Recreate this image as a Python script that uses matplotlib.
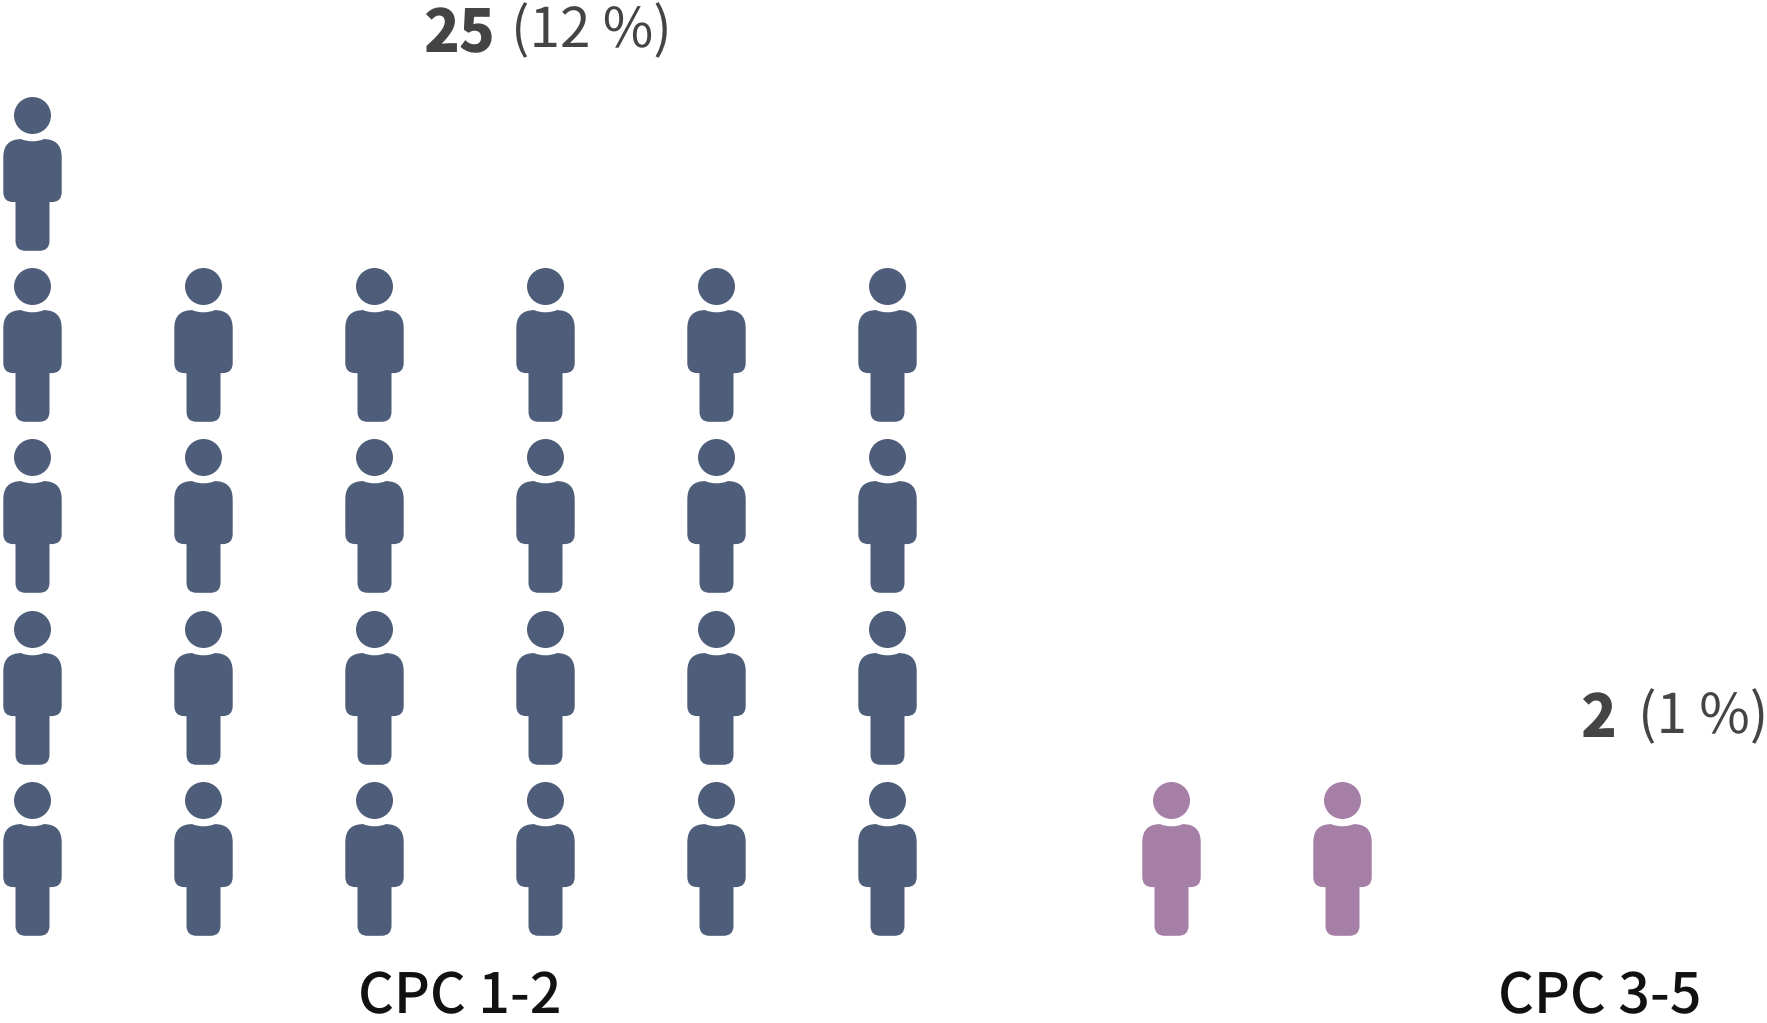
import numpy as np
import matplotlib
matplotlib.use('Agg')
import matplotlib.pyplot as plt
from matplotlib.path import Path
from matplotlib.markers import MarkerStyle

plt.rcParams['font.family'] = ['Noto Sans CJK JP', 'DejaVu Sans']
plt.rcParams['text.hinting'] = 'no_hinting'
plt.rcParams['text.hinting_factor'] = 1

# data: how many people are stacked in each column
cpc12_columns = [5, 4, 4, 4, 4, 4]
cpc35_columns = [1, 1]
cpc12_start = 0
cpc35_start = 6.66
labels = ['CPC 1-2', 'CPC 3-5']
counts = ['25', '2']
shares = ['(12 %)', '(1 %)']
colors = ['#4e5d79', '#a67fa7']
text_color = '#444444'

W, H = 1767, 1023
STEP = 171.1
X0_PX = 31.6
Y0_PX = 857.6


def person_path():
    # icon in pixels around its centre, y up
    hw, lw = 29.2, 17.0
    top, arm, bot = 34.4, -28.6, -77.3
    notch = top - 2.2
    sr = 18.0  # shoulder radius
    cr = 10.0  # corner radius of arms and feet
    body = [
        (Path.MOVETO, (0, notch)),
        (Path.CURVE3, (-7, notch)), (Path.CURVE3, (-hw + sr, top)),
        (Path.CURVE3, (-hw, top)), (Path.CURVE3, (-hw, top - sr)),
        (Path.LINETO, (-hw, arm + cr)),
        (Path.CURVE3, (-hw, arm)), (Path.CURVE3, (-hw + cr, arm)),
        (Path.LINETO, (-lw, arm)),
        (Path.LINETO, (-lw, bot + cr)),
        (Path.CURVE3, (-lw, bot)), (Path.CURVE3, (-lw + cr, bot)),
        (Path.LINETO, (lw - cr, bot)),
        (Path.CURVE3, (lw, bot)), (Path.CURVE3, (lw, bot + cr)),
        (Path.LINETO, (lw, arm)),
        (Path.LINETO, (hw - cr, arm)),
        (Path.CURVE3, (hw, arm)), (Path.CURVE3, (hw, arm + cr)),
        (Path.LINETO, (hw, top - sr)),
        (Path.CURVE3, (hw, top)), (Path.CURVE3, (hw - sr, top)),
        (Path.CURVE3, (7, notch)), (Path.CURVE3, (0, notch)),
        (Path.CLOSEPOLY, (0, notch)),
    ]
    codes = [c for c, v in body]
    verts = [v for c, v in body]
    head = Path.circle((0, 58.0), 18.5)
    return Path(np.vstack([verts, head.vertices]), codes + list(head.codes))


def draw_group(ax, columns, start, color, marker, size):
    x = []
    y = []
    for i, n in enumerate(columns):
        for r in range(n):
            x.append(start + i)
            y.append(r)
    ax.scatter(x, y, s=size, marker=marker, color=color, linewidths=0)


fig = plt.figure(figsize=(W / 100, H / 100), dpi=100)
ax = fig.add_axes([0, 0, 1, 1])
ax.set_xlim(-X0_PX / STEP, (W - X0_PX) / STEP)
ax.set_ylim((Y0_PX - H) / STEP, Y0_PX / STEP)
ax.axis('off')

icon = person_path()
# matplotlib rescales custom markers, so work the size out from the icon
rescale = np.abs(icon.vertices).max()
size = (2 * rescale * 0.72) ** 2
marker = MarkerStyle(icon)

draw_group(ax, cpc12_columns, cpc12_start, colors[0], marker, size)
draw_group(ax, cpc35_columns, cpc35_start, colors[1], marker, size)


def put(px, py, s, size, weight='normal', color=text_color, ha='left'):
    fig.text(px / W, 1 - py / H, s, fontsize=size, fontweight=weight,
             color=color, ha=ha, va='baseline')


put(423, 52, counts[0], 42.5, 'black')
put(511, 47, shares[0], 39.5, 'normal')
put(1580, 737, counts[1], 42.5, 'black')
put(1638, 733, shares[1], 39.5, 'normal')
put(460, 1013, labels[0], 40, 'medium', color='#111111', ha='center')
put(1600, 1013, labels[1], 40, 'medium', color='#111111', ha='center')

fig.savefig('out.png', dpi=100, facecolor='white')
